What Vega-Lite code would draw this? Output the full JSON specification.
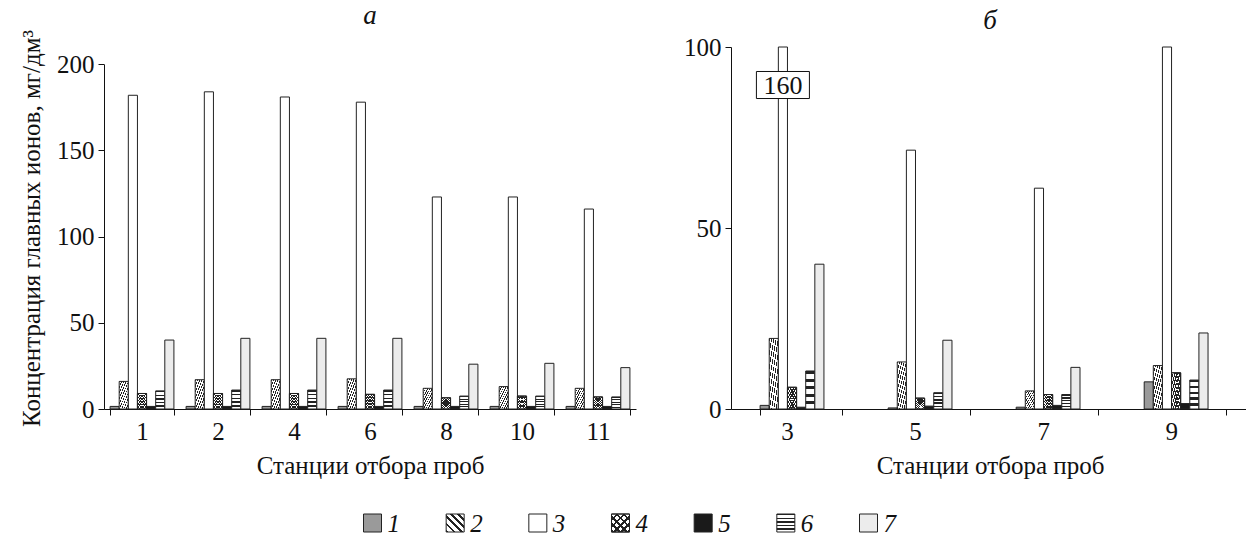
{
  "$schema": "https://vega.github.io/schema/vega-lite/v6.json",
  "background": "white",
  "padding": {"left": 19, "top": 1, "right": 1, "bottom": 1},
  "config": {
    "font": "Liberation Serif",
    "view": {"stroke": null},
    "axis": {"labelFont": "Liberation Serif", "titleFont": "Liberation Serif", "labelFontSize": 25, "titleFontSize": 25, "titleFontWeight": "normal", "labelColor": "#111", "titleColor": "#111", "domainColor": "#111", "tickColor": "#111", "grid": false, "tickSize": 6, "labelPadding": 4},
    "concat": {"spacing": 47}
  },
  "datasets": {
    "a": [
      {"station": "1", "ion": "1", "value": 1.5}, {"station": "1", "ion": "2", "value": 16}, {"station": "1", "ion": "3", "value": 182}, {"station": "1", "ion": "4", "value": 9}, {"station": "1", "ion": "5", "value": 1.5}, {"station": "1", "ion": "6", "value": 10.5}, {"station": "1", "ion": "7", "value": 40},
      {"station": "2", "ion": "1", "value": 1.5}, {"station": "2", "ion": "2", "value": 17}, {"station": "2", "ion": "3", "value": 184}, {"station": "2", "ion": "4", "value": 9}, {"station": "2", "ion": "5", "value": 1.5}, {"station": "2", "ion": "6", "value": 11}, {"station": "2", "ion": "7", "value": 41},
      {"station": "4", "ion": "1", "value": 1.5}, {"station": "4", "ion": "2", "value": 17}, {"station": "4", "ion": "3", "value": 181}, {"station": "4", "ion": "4", "value": 9}, {"station": "4", "ion": "5", "value": 1.5}, {"station": "4", "ion": "6", "value": 11}, {"station": "4", "ion": "7", "value": 41},
      {"station": "6", "ion": "1", "value": 1.5}, {"station": "6", "ion": "2", "value": 17.5}, {"station": "6", "ion": "3", "value": 178}, {"station": "6", "ion": "4", "value": 8.5}, {"station": "6", "ion": "5", "value": 1.5}, {"station": "6", "ion": "6", "value": 11}, {"station": "6", "ion": "7", "value": 41},
      {"station": "8", "ion": "1", "value": 1.5}, {"station": "8", "ion": "2", "value": 12}, {"station": "8", "ion": "3", "value": 123}, {"station": "8", "ion": "4", "value": 6.5}, {"station": "8", "ion": "5", "value": 1.5}, {"station": "8", "ion": "6", "value": 7.5}, {"station": "8", "ion": "7", "value": 26},
      {"station": "10", "ion": "1", "value": 1.5}, {"station": "10", "ion": "2", "value": 13}, {"station": "10", "ion": "3", "value": 123}, {"station": "10", "ion": "4", "value": 7.5}, {"station": "10", "ion": "5", "value": 1.5}, {"station": "10", "ion": "6", "value": 7.5}, {"station": "10", "ion": "7", "value": 26.5},
      {"station": "11", "ion": "1", "value": 1.5}, {"station": "11", "ion": "2", "value": 12}, {"station": "11", "ion": "3", "value": 116}, {"station": "11", "ion": "4", "value": 7}, {"station": "11", "ion": "5", "value": 1.5}, {"station": "11", "ion": "6", "value": 7}, {"station": "11", "ion": "7", "value": 24}
    ],
    "b": [
      {"station": "3", "ion": "1", "value": 1}, {"station": "3", "ion": "2", "value": 19.5}, {"station": "3", "ion": "3", "value": 160}, {"station": "3", "ion": "4", "value": 6}, {"station": "3", "ion": "5", "value": 0.5}, {"station": "3", "ion": "6", "value": 10.5}, {"station": "3", "ion": "7", "value": 40},
      {"station": "5", "ion": "1", "value": 0.3}, {"station": "5", "ion": "2", "value": 13}, {"station": "5", "ion": "3", "value": 71.5}, {"station": "5", "ion": "4", "value": 3}, {"station": "5", "ion": "5", "value": 0.8}, {"station": "5", "ion": "6", "value": 4.5}, {"station": "5", "ion": "7", "value": 19},
      {"station": "7", "ion": "1", "value": 0.5}, {"station": "7", "ion": "2", "value": 5}, {"station": "7", "ion": "3", "value": 61}, {"station": "7", "ion": "4", "value": 4}, {"station": "7", "ion": "5", "value": 1}, {"station": "7", "ion": "6", "value": 4}, {"station": "7", "ion": "7", "value": 11.5},
      {"station": "9", "ion": "1", "value": 7.5}, {"station": "9", "ion": "2", "value": 12}, {"station": "9", "ion": "3", "value": 100}, {"station": "9", "ion": "4", "value": 10}, {"station": "9", "ion": "5", "value": 1.5}, {"station": "9", "ion": "6", "value": 8}, {"station": "9", "ion": "7", "value": 21}
    ],
    "ann": [
      {"station": "3", "ion": "3", "value": 89.5, "label": "160"}
    ],
    "leg": [
      {"ion": "1"}, {"ion": "2"}, {"ion": "3"}, {"ion": "4"}, {"ion": "5"}, {"ion": "6"}, {"ion": "7"}
    ]
  },
  "vconcat": [
    {
      "hconcat": [
        {
          "width": 532,
          "height": 362,
          "title": {"text": "а", "font": "Liberation Serif", "fontStyle": "italic", "fontSize": 27, "fontWeight": "normal", "color": "#111", "offset": 0},
          "data": {"name": "a"},
          "layer": [
            {
              "mark": {"type": "bar", "stroke": "#222", "strokeWidth": 1},
              "encoding": {
                "x": {"field": "station", "type": "ordinal", "sort": ["1", "2", "4", "6", "8", "10", "11"], "scale": {"paddingInner": 0.16, "paddingOuter": 0.08}, "axis": {"title": "Станции отбора проб", "labelAngle": 0, "tickBand": "extent", "titlePadding": 9}},
                "xOffset": {"field": "ion", "type": "nominal", "scale": {"domain": ["1", "2", "3", "4", "5", "6", "7"]}},
                "y": {"field": "value", "type": "quantitative", "scale": {"domain": [0, 210], "nice": false}, "axis": {"title": "Концентрация главных ионов, мг/дм³", "values": [0, 50, 100, 150, 200], "titlePadding": 12, "domainDash": [344.8, 40]}},
                "fill": {
                  "condition": [
                    {"test": "datum.ion === '1'", "value": "#9a9a9a"},
                    {"test": "datum.ion === '2' || datum.ion === '4'", "value": {"gradient": "linear", "x1": 1, "y1": 0, "x2": 0, "y2": 1, "stops": [
                      {"offset": 0, "color": "#fff"}, {"offset": 0.065, "color": "#fff"}, {"offset": 0.065, "color": "#222"}, {"offset": 0.1, "color": "#222"},
                      {"offset": 0.1, "color": "#fff"}, {"offset": 0.165, "color": "#fff"}, {"offset": 0.165, "color": "#222"}, {"offset": 0.2, "color": "#222"},
                      {"offset": 0.2, "color": "#fff"}, {"offset": 0.265, "color": "#fff"}, {"offset": 0.265, "color": "#222"}, {"offset": 0.3, "color": "#222"},
                      {"offset": 0.3, "color": "#fff"}, {"offset": 0.365, "color": "#fff"}, {"offset": 0.365, "color": "#222"}, {"offset": 0.4, "color": "#222"},
                      {"offset": 0.4, "color": "#fff"}, {"offset": 0.465, "color": "#fff"}, {"offset": 0.465, "color": "#222"}, {"offset": 0.5, "color": "#222"},
                      {"offset": 0.5, "color": "#fff"}, {"offset": 0.565, "color": "#fff"}, {"offset": 0.565, "color": "#222"}, {"offset": 0.6, "color": "#222"},
                      {"offset": 0.6, "color": "#fff"}, {"offset": 0.665, "color": "#fff"}, {"offset": 0.665, "color": "#222"}, {"offset": 0.7, "color": "#222"},
                      {"offset": 0.7, "color": "#fff"}, {"offset": 0.765, "color": "#fff"}, {"offset": 0.765, "color": "#222"}, {"offset": 0.8, "color": "#222"},
                      {"offset": 0.8, "color": "#fff"}, {"offset": 0.865, "color": "#fff"}, {"offset": 0.865, "color": "#222"}, {"offset": 0.9, "color": "#222"},
                      {"offset": 0.9, "color": "#fff"}, {"offset": 0.965, "color": "#fff"}, {"offset": 0.965, "color": "#222"}, {"offset": 1, "color": "#222"}
                    ]}},
                    {"test": "datum.ion === '5'", "value": "#1a1a1a"},
                    {"test": "datum.ion === '6'", "value": {"gradient": "linear", "x1": 0, "y1": 0, "x2": 0, "y2": 1, "stops": [
                      {"offset": 0, "color": "#222"}, {"offset": 0.08, "color": "#222"}, {"offset": 0.08, "color": "#fff"}, {"offset": 0.2, "color": "#fff"},
                      {"offset": 0.2, "color": "#222"}, {"offset": 0.28, "color": "#222"}, {"offset": 0.28, "color": "#fff"}, {"offset": 0.4, "color": "#fff"},
                      {"offset": 0.4, "color": "#222"}, {"offset": 0.48, "color": "#222"}, {"offset": 0.48, "color": "#fff"}, {"offset": 0.6, "color": "#fff"},
                      {"offset": 0.6, "color": "#222"}, {"offset": 0.68, "color": "#222"}, {"offset": 0.68, "color": "#fff"}, {"offset": 0.8, "color": "#fff"},
                      {"offset": 0.8, "color": "#222"}, {"offset": 0.88, "color": "#222"}, {"offset": 0.88, "color": "#fff"}, {"offset": 1, "color": "#fff"}
                    ]}},
                    {"test": "datum.ion === '7'", "value": "#ececec"}
                  ],
                  "value": "#ffffff"
                }
              }
            },
            {
              "transform": [{"filter": "datum.ion === '4'"}],
              "mark": {"type": "bar", "stroke": "#222", "strokeWidth": 1, "fill": {"gradient": "linear", "x1": 0, "y1": 0, "x2": 1, "y2": 1, "stops": [
                {"offset": 0, "color": "rgba(0,0,0,0)"}, {"offset": 0.065, "color": "rgba(0,0,0,0)"}, {"offset": 0.065, "color": "#222"}, {"offset": 0.1, "color": "#222"},
                {"offset": 0.1, "color": "rgba(0,0,0,0)"}, {"offset": 0.165, "color": "rgba(0,0,0,0)"}, {"offset": 0.165, "color": "#222"}, {"offset": 0.2, "color": "#222"},
                {"offset": 0.2, "color": "rgba(0,0,0,0)"}, {"offset": 0.265, "color": "rgba(0,0,0,0)"}, {"offset": 0.265, "color": "#222"}, {"offset": 0.3, "color": "#222"},
                {"offset": 0.3, "color": "rgba(0,0,0,0)"}, {"offset": 0.365, "color": "rgba(0,0,0,0)"}, {"offset": 0.365, "color": "#222"}, {"offset": 0.4, "color": "#222"},
                {"offset": 0.4, "color": "rgba(0,0,0,0)"}, {"offset": 0.465, "color": "rgba(0,0,0,0)"}, {"offset": 0.465, "color": "#222"}, {"offset": 0.5, "color": "#222"},
                {"offset": 0.5, "color": "rgba(0,0,0,0)"}, {"offset": 0.565, "color": "rgba(0,0,0,0)"}, {"offset": 0.565, "color": "#222"}, {"offset": 0.6, "color": "#222"},
                {"offset": 0.6, "color": "rgba(0,0,0,0)"}, {"offset": 0.665, "color": "rgba(0,0,0,0)"}, {"offset": 0.665, "color": "#222"}, {"offset": 0.7, "color": "#222"},
                {"offset": 0.7, "color": "rgba(0,0,0,0)"}, {"offset": 0.765, "color": "rgba(0,0,0,0)"}, {"offset": 0.765, "color": "#222"}, {"offset": 0.8, "color": "#222"},
                {"offset": 0.8, "color": "rgba(0,0,0,0)"}, {"offset": 0.865, "color": "rgba(0,0,0,0)"}, {"offset": 0.865, "color": "#222"}, {"offset": 0.9, "color": "#222"},
                {"offset": 0.9, "color": "rgba(0,0,0,0)"}, {"offset": 0.965, "color": "rgba(0,0,0,0)"}, {"offset": 0.965, "color": "#222"}, {"offset": 1, "color": "#222"}
              ]}},
              "encoding": {
                "x": {"field": "station", "type": "ordinal", "sort": ["1", "2", "4", "6", "8", "10", "11"]},
                "xOffset": {"field": "ion", "type": "nominal"},
                "y": {"field": "value", "type": "quantitative"}
              }
            }
          ]
        },
        {
          "width": 518,
          "height": 362,
          "title": {"text": "б", "font": "Liberation Serif", "fontStyle": "italic", "fontSize": 27, "fontWeight": "normal", "color": "#111", "offset": 0},
          "data": {"name": "b"},
          "layer": [
            {
              "mark": {"type": "bar", "stroke": "#222", "strokeWidth": 1},
              "encoding": {
                "x": {"field": "station", "type": "ordinal", "sort": ["3", "5", "7", "9"], "scale": {"paddingInner": 0.36, "paddingOuter": 0.203, "align": 0.56}, "axis": {"title": "Станции отбора проб", "labelAngle": 0, "tickBand": "extent", "titlePadding": 9, "labelOffset": -14}},
                "xOffset": {"field": "ion", "type": "nominal", "scale": {"domain": ["1", "2", "3", "4", "5", "6", "7"]}},
                "y": {"field": "value", "type": "quantitative", "scale": {"domain": [0, 100], "nice": false, "clamp": true}, "axis": {"title": null, "values": [0, 50, 100]}},
                "fill": {
                  "condition": [
                    {"test": "datum.ion === '1'", "value": "#9a9a9a"},
                    {"test": "datum.ion === '2' || datum.ion === '4'", "value": {"gradient": "linear", "x1": 1, "y1": 0, "x2": 0, "y2": 1, "stops": [
                      {"offset": 0, "color": "#fff"}, {"offset": 0.065, "color": "#fff"}, {"offset": 0.065, "color": "#222"}, {"offset": 0.1, "color": "#222"},
                      {"offset": 0.1, "color": "#fff"}, {"offset": 0.165, "color": "#fff"}, {"offset": 0.165, "color": "#222"}, {"offset": 0.2, "color": "#222"},
                      {"offset": 0.2, "color": "#fff"}, {"offset": 0.265, "color": "#fff"}, {"offset": 0.265, "color": "#222"}, {"offset": 0.3, "color": "#222"},
                      {"offset": 0.3, "color": "#fff"}, {"offset": 0.365, "color": "#fff"}, {"offset": 0.365, "color": "#222"}, {"offset": 0.4, "color": "#222"},
                      {"offset": 0.4, "color": "#fff"}, {"offset": 0.465, "color": "#fff"}, {"offset": 0.465, "color": "#222"}, {"offset": 0.5, "color": "#222"},
                      {"offset": 0.5, "color": "#fff"}, {"offset": 0.565, "color": "#fff"}, {"offset": 0.565, "color": "#222"}, {"offset": 0.6, "color": "#222"},
                      {"offset": 0.6, "color": "#fff"}, {"offset": 0.665, "color": "#fff"}, {"offset": 0.665, "color": "#222"}, {"offset": 0.7, "color": "#222"},
                      {"offset": 0.7, "color": "#fff"}, {"offset": 0.765, "color": "#fff"}, {"offset": 0.765, "color": "#222"}, {"offset": 0.8, "color": "#222"},
                      {"offset": 0.8, "color": "#fff"}, {"offset": 0.865, "color": "#fff"}, {"offset": 0.865, "color": "#222"}, {"offset": 0.9, "color": "#222"},
                      {"offset": 0.9, "color": "#fff"}, {"offset": 0.965, "color": "#fff"}, {"offset": 0.965, "color": "#222"}, {"offset": 1, "color": "#222"}
                    ]}},
                    {"test": "datum.ion === '5'", "value": "#1a1a1a"},
                    {"test": "datum.ion === '6'", "value": {"gradient": "linear", "x1": 0, "y1": 0, "x2": 0, "y2": 1, "stops": [
                      {"offset": 0, "color": "#222"}, {"offset": 0.08, "color": "#222"}, {"offset": 0.08, "color": "#fff"}, {"offset": 0.2, "color": "#fff"},
                      {"offset": 0.2, "color": "#222"}, {"offset": 0.28, "color": "#222"}, {"offset": 0.28, "color": "#fff"}, {"offset": 0.4, "color": "#fff"},
                      {"offset": 0.4, "color": "#222"}, {"offset": 0.48, "color": "#222"}, {"offset": 0.48, "color": "#fff"}, {"offset": 0.6, "color": "#fff"},
                      {"offset": 0.6, "color": "#222"}, {"offset": 0.68, "color": "#222"}, {"offset": 0.68, "color": "#fff"}, {"offset": 0.8, "color": "#fff"},
                      {"offset": 0.8, "color": "#222"}, {"offset": 0.88, "color": "#222"}, {"offset": 0.88, "color": "#fff"}, {"offset": 1, "color": "#fff"}
                    ]}},
                    {"test": "datum.ion === '7'", "value": "#ececec"}
                  ],
                  "value": "#ffffff"
                }
              }
            },
            {
              "transform": [{"filter": "datum.ion === '4'"}],
              "mark": {"type": "bar", "stroke": "#222", "strokeWidth": 1, "fill": {"gradient": "linear", "x1": 0, "y1": 0, "x2": 1, "y2": 1, "stops": [
                {"offset": 0, "color": "rgba(0,0,0,0)"}, {"offset": 0.065, "color": "rgba(0,0,0,0)"}, {"offset": 0.065, "color": "#222"}, {"offset": 0.1, "color": "#222"},
                {"offset": 0.1, "color": "rgba(0,0,0,0)"}, {"offset": 0.165, "color": "rgba(0,0,0,0)"}, {"offset": 0.165, "color": "#222"}, {"offset": 0.2, "color": "#222"},
                {"offset": 0.2, "color": "rgba(0,0,0,0)"}, {"offset": 0.265, "color": "rgba(0,0,0,0)"}, {"offset": 0.265, "color": "#222"}, {"offset": 0.3, "color": "#222"},
                {"offset": 0.3, "color": "rgba(0,0,0,0)"}, {"offset": 0.365, "color": "rgba(0,0,0,0)"}, {"offset": 0.365, "color": "#222"}, {"offset": 0.4, "color": "#222"},
                {"offset": 0.4, "color": "rgba(0,0,0,0)"}, {"offset": 0.465, "color": "rgba(0,0,0,0)"}, {"offset": 0.465, "color": "#222"}, {"offset": 0.5, "color": "#222"},
                {"offset": 0.5, "color": "rgba(0,0,0,0)"}, {"offset": 0.565, "color": "rgba(0,0,0,0)"}, {"offset": 0.565, "color": "#222"}, {"offset": 0.6, "color": "#222"},
                {"offset": 0.6, "color": "rgba(0,0,0,0)"}, {"offset": 0.665, "color": "rgba(0,0,0,0)"}, {"offset": 0.665, "color": "#222"}, {"offset": 0.7, "color": "#222"},
                {"offset": 0.7, "color": "rgba(0,0,0,0)"}, {"offset": 0.765, "color": "rgba(0,0,0,0)"}, {"offset": 0.765, "color": "#222"}, {"offset": 0.8, "color": "#222"},
                {"offset": 0.8, "color": "rgba(0,0,0,0)"}, {"offset": 0.865, "color": "rgba(0,0,0,0)"}, {"offset": 0.865, "color": "#222"}, {"offset": 0.9, "color": "#222"},
                {"offset": 0.9, "color": "rgba(0,0,0,0)"}, {"offset": 0.965, "color": "rgba(0,0,0,0)"}, {"offset": 0.965, "color": "#222"}, {"offset": 1, "color": "#222"}
              ]}},
              "encoding": {
                "x": {"field": "station", "type": "ordinal", "sort": ["3", "5", "7", "9"]},
                "xOffset": {"field": "ion", "type": "nominal"},
                "y": {"field": "value", "type": "quantitative"}
              }
            },
            {
              "data": {"name": "ann"},
              "mark": {"type": "point", "shape": "M-1,-0.51H1V0.51H-1Z", "size": 2809, "filled": true, "fill": "white", "stroke": "#111", "strokeWidth": 1, "opacity": 1},
              "encoding": {
                "x": {"field": "station", "type": "ordinal", "sort": ["3", "5", "7", "9"]},
                "xOffset": {"field": "ion", "type": "nominal"},
                "y": {"field": "value", "type": "quantitative"}
              }
            },
            {
              "data": {"name": "ann"},
              "mark": {"type": "text", "font": "Liberation Serif", "fontSize": 26, "color": "#111", "baseline": "middle", "align": "center", "dy": 1},
              "encoding": {
                "x": {"field": "station", "type": "ordinal", "sort": ["3", "5", "7", "9"]},
                "xOffset": {"field": "ion", "type": "nominal"},
                "y": {"field": "value", "type": "quantitative"},
                "text": {"field": "label"}
              }
            }
          ]
        }
      ]
    },
    {
      "width": 608,
      "height": 20,
      "data": {"name": "leg"},
      "layer": [
        {
          "mark": {"type": "point", "shape": "square", "size": 324, "filled": true, "stroke": "#222", "strokeWidth": 1, "opacity": 1},
          "encoding": {
            "x": {"field": "ion", "type": "ordinal", "scale": {"type": "point", "padding": 0, "range": [0, 496]}, "axis": null},
            "fill": {
              "condition": [
                {"test": "datum.ion === '1'", "value": "#9a9a9a"},
                {"test": "datum.ion === '2' || datum.ion === '4'", "value": {"gradient": "linear", "x1": 1, "y1": 0, "x2": 0, "y2": 1, "stops": [
                  {"offset": 0, "color": "#fff"}, {"offset": 0.13, "color": "#fff"}, {"offset": 0.13, "color": "#222"}, {"offset": 0.2, "color": "#222"},
                  {"offset": 0.2, "color": "#fff"}, {"offset": 0.33, "color": "#fff"}, {"offset": 0.33, "color": "#222"}, {"offset": 0.4, "color": "#222"},
                  {"offset": 0.4, "color": "#fff"}, {"offset": 0.53, "color": "#fff"}, {"offset": 0.53, "color": "#222"}, {"offset": 0.6, "color": "#222"},
                  {"offset": 0.6, "color": "#fff"}, {"offset": 0.73, "color": "#fff"}, {"offset": 0.73, "color": "#222"}, {"offset": 0.8, "color": "#222"},
                  {"offset": 0.8, "color": "#fff"}, {"offset": 0.93, "color": "#fff"}, {"offset": 0.93, "color": "#222"}, {"offset": 1, "color": "#222"}
                ]}},
                {"test": "datum.ion === '5'", "value": "#1a1a1a"},
                {"test": "datum.ion === '6'", "value": {"gradient": "linear", "x1": 0, "y1": 0, "x2": 0, "y2": 1, "stops": [
                  {"offset": 0, "color": "#222"}, {"offset": 0.08, "color": "#222"}, {"offset": 0.08, "color": "#fff"}, {"offset": 0.2, "color": "#fff"},
                  {"offset": 0.2, "color": "#222"}, {"offset": 0.28, "color": "#222"}, {"offset": 0.28, "color": "#fff"}, {"offset": 0.4, "color": "#fff"},
                  {"offset": 0.4, "color": "#222"}, {"offset": 0.48, "color": "#222"}, {"offset": 0.48, "color": "#fff"}, {"offset": 0.6, "color": "#fff"},
                  {"offset": 0.6, "color": "#222"}, {"offset": 0.68, "color": "#222"}, {"offset": 0.68, "color": "#fff"}, {"offset": 0.8, "color": "#fff"},
                  {"offset": 0.8, "color": "#222"}, {"offset": 0.88, "color": "#222"}, {"offset": 0.88, "color": "#fff"}, {"offset": 1, "color": "#fff"}
                ]}},
                {"test": "datum.ion === '7'", "value": "#ececec"}
              ],
              "value": "#ffffff"
            }
          }
        },
        {
          "transform": [{"filter": "datum.ion === '4'"}],
          "mark": {"type": "point", "shape": "square", "size": 324, "filled": true, "stroke": "#222", "strokeWidth": 1, "opacity": 1, "fill": {"gradient": "linear", "x1": 0, "y1": 0, "x2": 1, "y2": 1, "stops": [
            {"offset": 0, "color": "rgba(0,0,0,0)"}, {"offset": 0.13, "color": "rgba(0,0,0,0)"}, {"offset": 0.13, "color": "#222"}, {"offset": 0.2, "color": "#222"},
            {"offset": 0.2, "color": "rgba(0,0,0,0)"}, {"offset": 0.33, "color": "rgba(0,0,0,0)"}, {"offset": 0.33, "color": "#222"}, {"offset": 0.4, "color": "#222"},
            {"offset": 0.4, "color": "rgba(0,0,0,0)"}, {"offset": 0.53, "color": "rgba(0,0,0,0)"}, {"offset": 0.53, "color": "#222"}, {"offset": 0.6, "color": "#222"},
            {"offset": 0.6, "color": "rgba(0,0,0,0)"}, {"offset": 0.73, "color": "rgba(0,0,0,0)"}, {"offset": 0.73, "color": "#222"}, {"offset": 0.8, "color": "#222"},
            {"offset": 0.8, "color": "rgba(0,0,0,0)"}, {"offset": 0.93, "color": "rgba(0,0,0,0)"}, {"offset": 0.93, "color": "#222"}, {"offset": 1, "color": "#222"}
          ]}},
          "encoding": {
            "x": {"field": "ion", "type": "ordinal", "scale": {"type": "point", "padding": 0, "range": [0, 496]}, "axis": null}
          }
        },
        {
          "mark": {"type": "text", "font": "Liberation Serif", "fontSize": 25, "fontStyle": "italic", "color": "#111", "align": "left", "baseline": "middle", "dx": 15, "dy": 1},
          "encoding": {
            "x": {"field": "ion", "type": "ordinal", "scale": {"type": "point", "padding": 0, "range": [0, 496]}, "axis": null},
            "text": {"field": "ion"}
          }
        }
      ]
    }
  ],
  "spacing": 34,
  "center": true
}
